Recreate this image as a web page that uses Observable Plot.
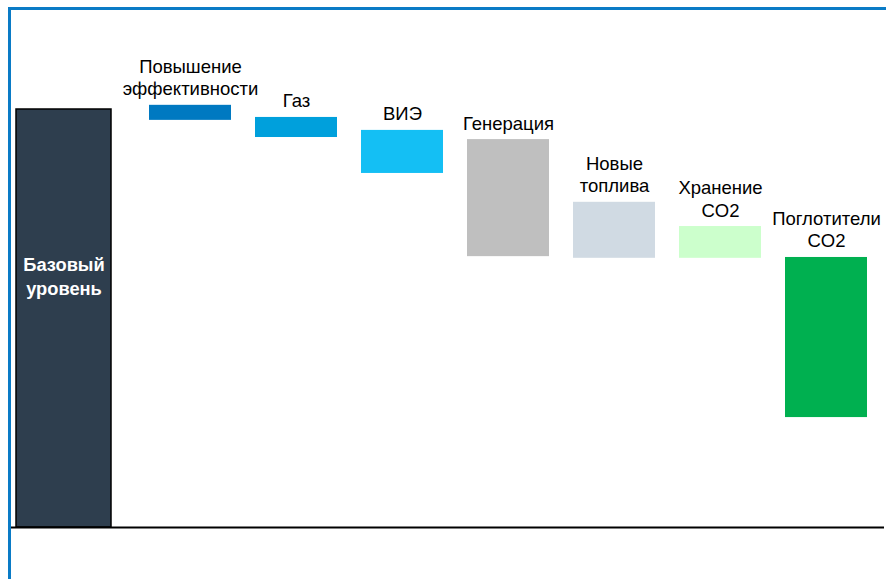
<!DOCTYPE html>
<html>
<head>
<meta charset="utf-8">
<script src="https://cdn.jsdelivr.net/npm/d3@7"></script>
<script src="https://cdn.jsdelivr.net/npm/@observablehq/plot@0.6"></script>
<style>
  html, body { margin: 0; padding: 0; background: #fff; }
  #chart svg {
    display: block;
    margin: 7px 0 0 8px;
    border-top: 3px solid #0a7bc6;
    border-left: 3px solid #0a7bc6;
    font-family: "Liberation Sans", Arial, sans-serif;
  }
</style>
</head>
<body>
<div id="chart"></div>
<script>
// Categories and label texts
const categories = ["Базовый уровень", "Повышение эффективности", "Газ", "ВИЭ", "Генерация", "Новые топлива", "Хранение CO2", "Поглотители CO2"];
const labels = ["Базовый\nуровень", "Повышение\nэффективности", "Газ", "ВИЭ", "Генерация", "Новые\nтоплива", "Хранение\nCO2", "Поглотители\nCO2"];
// Bar extents (index, base level = 100)
const tops    = [100, 101.0, 98.1, 95.0, 92.8, 77.8, 72.0, 64.6];
const bottoms = [0,   97.4,  93.3, 84.7, 64.8, 64.4, 64.4, 26.3];
const palette = ["#2e3e4e", "#0079c1", "#00a0dc", "#14bff4", "#bfbfbf", "#d0dae3", "#ccffcc", "#00b050"];

const data = categories.map((c, i) => ({cat: c, label: labels[i], top: tops[i], bottom: bottoms[i]}));
const base = data.slice(0, 1);
const steps = data.slice(1);

const chart = Plot.plot({
  width: 875,
  height: 569,
  marginTop: 0, marginBottom: 0, marginLeft: 0, marginRight: 0,
  style: {fontFamily: "'Liberation Sans', Arial, sans-serif", background: "#fff"},
  x: {type: "band", domain: categories, range: [32, 857], paddingInner: 0.2264, paddingOuter: 0, axis: null},
  y: {domain: [0, 100], range: [517, 99], axis: null},
  color: {domain: categories, range: palette},
  marks: [
    Plot.barY(base, {x: "cat", y1: "bottom", y2: "top", fill: "cat", stroke: "#000", strokeWidth: 1.5, insetLeft: -27, insetRight: 14}),
    Plot.barY(steps, {x: "cat", y1: "bottom", y2: "top", fill: "cat"}),
    Plot.ruleY([0], {stroke: "#000", strokeWidth: 2, insetLeft: -1, insetRight: 2}),
    Plot.text(base, {x: "cat", y: d => (d.top + d.bottom) / 2, text: "label", fill: "#fff", fontWeight: "bold", fontSize: 18.3, lineHeight: 1.31, lineAnchor: "middle", dx: -20.5, dy: -43}),
    Plot.text(steps, {x: "cat", y: "top", text: "label", fill: "#000", fontSize: 18.5, lineHeight: 1.23, lineAnchor: "bottom", dy: -10})
  ]
});
document.getElementById("chart").appendChild(chart);
</script>
</body>
</html>
